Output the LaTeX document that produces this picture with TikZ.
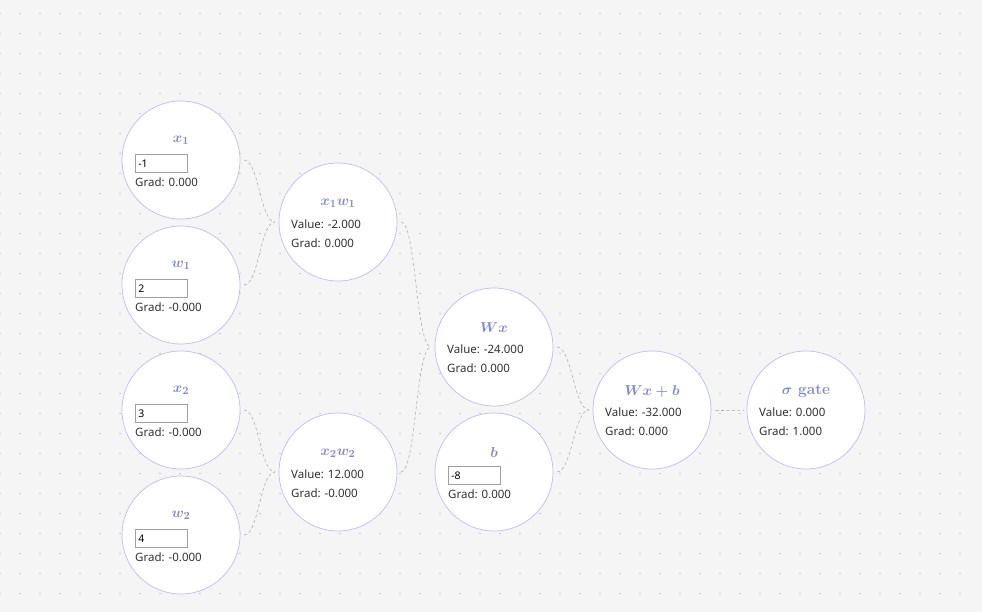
\documentclass[tikz,border=0pt]{standalone}
\usepackage{fontspec}
\setsansfont{Noto Sans}
\usepackage{tikz}
\usetikzlibrary{calc, positioning}
\usepackage{xcolor}
\definecolor{canvas}{HTML}{F5F5F5}
\definecolor{griddot}{HTML}{A0A0A0}
\definecolor{ringblue}{HTML}{BDBEEA}
\definecolor{titleblue}{HTML}{8388CC}
\definecolor{bodygray}{HTML}{303030}
\definecolor{boxgray}{HTML}{A0A0A0}
\definecolor{wiregray}{HTML}{B0B0B0}

\tikzset{
    gatenode/.style={circle, draw=ringblue, fill=white, line width=0.7pt, minimum size=118pt, inner sep=0pt, outer sep=4pt},
    gatetitle/.style={text=titleblue, inner sep=0pt, font=\fontsize{15.5}{16}\selectfont\bfseries\boldmath},
    gatetext/.style={anchor=west, text=bodygray, inner sep=0pt, font=\sffamily\fontsize{11.5}{12}\selectfont},
    valbox/.style={anchor=north west, draw=boxgray, fill=white, line width=0.7pt, text width=46pt, align=left, inner xsep=3pt, inner ysep=0pt, minimum height=18pt, font=\sffamily\fontsize{10.5}{11}\selectfont},
    wire/.style={draw=wiregray, line width=0.6pt, dash pattern=on 3pt off 2.5pt, out=0, in=180, out distance=15pt, in distance=15pt}
}

\begin{document}
\begin{tikzpicture}[x=1pt, y=-1pt]
    % Canvas and dotted grid
    \fill[canvas] (0,0) rectangle (982,612);
    \useasboundingbox (0,0) rectangle (982,612);
    \foreach \x in {0,20,...,960}
        \foreach \y in {13.5,33.5,...,593.5}
            \fill[griddot] (\x,\y) circle (0.6);

    % Leaf nodes
    \node[gatenode] (x1) at (181,160) {};
    \node[gatenode] (w1) at (181,285) {};
    \node[gatenode] (x2) at (181,410) {};
    \node[gatenode] (w2) at (181,535) {};
    \node[gatenode] (b)  at (494,472) {};

    % Operation nodes
    \node[gatenode] (x1w1) at (338,222) {};
    \node[gatenode] (x2w2) at (338,472) {};
    \node[gatenode] (Wx)   at (494,347) {};
    \node[gatenode] (Wxb)  at (652,410) {};
    \node[gatenode] (sig)  at (806,410) {};

    % Wires
    \draw[wire] (x1.east) to (x1w1.west);
    \draw[wire] (w1.east) to (x1w1.west);
    \draw[wire] (x2.east) to (x2w2.west);
    \draw[wire] (w2.east) to (x2w2.west);
    \draw[wire] (x1w1.east) to (Wx.west);
    \draw[wire] (x2w2.east) to (Wx.west);
    \draw[wire] (Wx.east) to (Wxb.west);
    \draw[wire] (b.east) to (Wxb.west);
    \draw[wire] (Wxb.east) to (sig.west);

    % Leaf contents: title, input box, gradient
    \foreach \n/\t/\v/\g in {x1/x_1/-1/0.000, w1/w_1/2/-0.000, x2/x_2/3/-0.000, w2/w_2/4/-0.000, b/b/-8/0.000} {
        \node[gatetitle] (\n-title) at ($(\n)+(0,-20)$) {$\t$};
        \node[valbox] (\n-in) at ($(\n)+(-46,-6)$) {\v};
        \node[gatetext] (\n-grad) at ($(\n)+(-46,22)$) {Grad: \g};
    }

    % Operation contents: title, value, gradient
    \foreach \n/\t/\v/\g in {x1w1/$x_1w_1$/-2.000/0.000, x2w2/$x_2w_2$/12.000/-0.000, Wx/$Wx$/-24.000/0.000, Wxb/$Wx+b$/-32.000/0.000, sig/$\sigma$ gate/0.000/1.000} {
        \node[gatetitle] (\n-title) at ($(\n)+(0,-19)$) {\t};
        \node[gatetext] (\n-val) at ($(\n)+(-47,2)$) {Value: \v};
        \node[gatetext] (\n-grad) at ($(\n)+(-47,21)$) {Grad: \g};
    }
\end{tikzpicture}
\end{document}
